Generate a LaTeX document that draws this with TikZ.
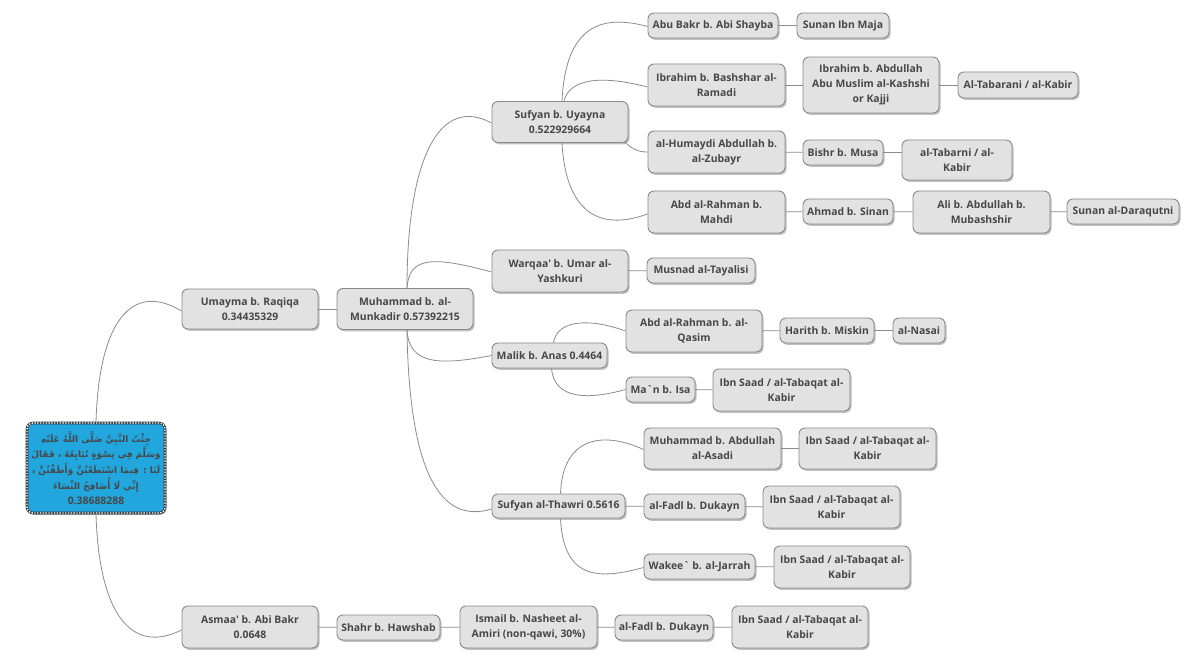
\documentclass[tikz,border=0pt]{standalone}
\usepackage{fontspec}
\setmainfont{Open Sans}[Ligatures=TeXOff]
\newfontfamily\arabicfont[Script=Arabic]{DejaVu Sans}
\TeXXeTstate=1
\usetikzlibrary{shadows}
\definecolor{boxfill}{HTML}{E2E2E2}
\definecolor{boxline}{HTML}{8A8A8A}
\definecolor{txt}{HTML}{474747}
\definecolor{linkc}{HTML}{8C8C8C}
\definecolor{rootblue}{HTML}{22A6DE}
\definecolor{rootline}{HTML}{2E3A40}
\tikzset{
  box/.style={draw=boxline, fill=boxfill, rounded corners=6pt, line width=0.9pt,
    text=txt, font=\bfseries\fontsize{10.4}{15}\selectfont, align=center, inner sep=1pt,
    drop shadow={shadow xshift=1.5pt, shadow yshift=-1.8pt, fill=black!55, opacity=0.45}},
  sz/.style 2 args={minimum width=#1pt, minimum height=#2pt},
  link/.style={draw=linkc, line width=0.8pt},
  rootbox/.style={draw=rootline, fill=rootblue, rounded corners=6pt, line width=2.6pt,
    text=txt, align=center, inner sep=1pt,
    font=\arabicfont\bfseries\fontsize{8.9}{15.6}\selectfont,
    drop shadow={shadow xshift=1.5pt, shadow yshift=-1.8pt, fill=black!60, opacity=0.5},
    postaction={draw=white, line width=1.3pt, dash pattern=on 1.4pt off 1.4pt}}
}
\begin{document}
\begin{tikzpicture}[x=1pt,y=-1pt]
\fill[white] (0,0) rectangle (1200,660);
\useasboundingbox (0,0) rectangle (1200,660);

% root
\node[rootbox, sz={138}{90}] (root) at (96,468)
 {\beginR جِئْتُ النَّبِيَّ صَلَّى اللَّهُ عَلَيْهِ\endR\\
  \beginR وَسَلَّمَ فِي نِسْوَةٍ نُبَايِعُهُ ، فَقَالَ\endR\\
  \beginR لَنَا : فِيمَا اسْتَطَعْتُنَّ وَأَطَقْتُنَّ ،\endR\\
  \beginR إِنِّي لَا أُصَافِحُ النِّسَاءَ\endR\\
  \rmfamily\bfseries\fontsize{10.4}{15}\selectfont 0.38688288};

% level 1
\node[box, sz={136}{40}] (umayma) at (250,309) {Umayma b. Raqiqa\\0.34435329};
\node[box, sz={136}{42}] (asmaa) at (250,627) {Asmaa' b. Abi Bakr\\0.0648};
\node[box, sz={136}{41}] (munkadir) at (405,309) {Muhammad b. al-\\Munkadir 0.57392215};

% Sufyan b. Uyayna branch
\node[box, sz={136}{41}] (sufyanU) at (560,122) {Sufyan b. Uyayna\\0.522929664};
\node[box, sz={130}{25}] (abubakr) at (713,25.5) {Abu Bakr b. Abi Shayba};
\node[box, sz={92}{25}] (ibnmaja) at (843,25.5) {Sunan Ibn Maja};
\node[box, sz={137}{42}] (ramadi) at (716.5,85) {Ibrahim b. Bashshar al-\\Ramadi};
\node[box, sz={136}{56}] (kashshi) at (871,85) {Ibrahim b. Abdullah\\Abu Muslim al-Kashshi\\or Kajji};
\node[box, sz={120}{26}] (tabarani) at (1018,85) {Al-Tabarani / al-Kabir};
\node[box, sz={137}{42}] (humaydi) at (716.5,152) {al-Humaydi Abdullah b.\\al-Zubayr};
\node[box, sz={80}{25}] (bishr) at (843,152.5) {Bishr b. Musa};
\node[box, sz={110}{40}] (tabarni) at (957,160) {al-Tabarni / al-\\Kabir};
\node[box, sz={137}{42}] (mahdi) at (716.5,212) {Abd al-Rahman b.\\Mahdi};
\node[box, sz={90}{25}] (sinan) at (848,211.5) {Ahmad b. Sinan};
\node[box, sz={137}{42}] (mubashshir) at (981.5,212) {Ali b. Abdullah b.\\Mubashshir};
\node[box, sz={112}{25}] (daraqutni) at (1123,211.5) {Sunan al-Daraqutni};

% Warqaa
\node[box, sz={136}{42}] (warqaa) at (560,271) {Warqaa' b. Umar al-\\Yashkuri};
\node[box, sz={108}{25}] (tayalisi) at (701,270.5) {Musnad al-Tayalisi};

% Malik
\node[box, sz={115}{25}] (malik) at (549.5,355.5) {Malik b. Anas 0.4464};
\node[box, sz={136}{42}] (qasim) at (694,331) {Abd al-Rahman b. al-\\Qasim};
\node[box, sz={94}{25}] (harith) at (827,330.5) {Harith b. Miskin};
\node[box, sz={52}{25}] (nasai) at (919,330.5) {al-Nasai};
\node[box, sz={69}{25}] (man) at (660.5,389.5) {Ma`n b. Isa};
\node[box, sz={137}{42}] (saadA) at (781.5,390) {Ibn Saad / al-Tabaqat al-\\Kabir};

% Sufyan al-Thawri
\node[box, sz={133}{24}] (thawri) at (558.5,506) {Sufyan al-Thawri 0.5616};
\node[box, sz={137}{41}] (asadi) at (712.5,448.5) {Muhammad b. Abdullah\\al-Asadi};
\node[box, sz={137}{41}] (saadB) at (867.5,448.5) {Ibn Saad / al-Tabaqat al-\\Kabir};
\node[box, sz={101}{25}] (fadlA) at (694.5,506.5) {al-Fadl b. Dukayn};
\node[box, sz={137}{42}] (saadC) at (831.5,507) {Ibn Saad / al-Tabaqat al-\\Kabir};
\node[box, sz={111}{25}] (wakee) at (699.5,566.5) {Wakee` b. al-Jarrah};
\node[box, sz={136}{42}] (saadD) at (842,567) {Ibn Saad / al-Tabaqat al-\\Kabir};

% Asmaa chain
\node[box, sz={103}{25}] (shahr) at (388.5,627.5) {Shahr b. Hawshab};
\node[box, sz={137}{42}] (ismail) at (528.5,627) {Ismail b. Nasheet al-\\Amiri (non-qawi, 30\%)};
\node[box, sz={98}{25}] (fadlB) at (664,627.5) {al-Fadl b. Dukayn};
\node[box, sz={136}{42}] (saadE) at (800,627) {Ibn Saad / al-Tabaqat al-\\Kabir};

% curved connectors
\draw[link] (root.north) .. controls +(3,-100) and +(-50,-30) .. ([shift={(0,2)}]umayma.west);
\draw[link] (root.south) .. controls +(3,100) and +(-50,25) .. ([shift={(0,3)}]asmaa.west);

\draw[link] ([shift={(2,0)}]munkadir.north) .. controls +(0,-130) and +(-52,-28) .. ([shift={(0,1)}]sufyanU.west);
\draw[link] ([shift={(2,0)}]munkadir.north) .. controls +(2,-30) and +(-62,-17) .. ([shift={(0,1)}]warqaa.west);
\draw[link] ([shift={(2,0)}]munkadir.south) .. controls +(2,35) and +(-52,10) .. (malik.west);
\draw[link] ([shift={(2,0)}]munkadir.south) .. controls +(2,140) and +(-52,16) .. ([shift={(0,3)}]thawri.west);

\draw[link] ([shift={(2,0)}]sufyanU.north) .. controls +(3,-62) and +(-58,-16) .. ([shift={(0,1)}]abubakr.west);
\draw[link] ([shift={(4,0)}]sufyanU.north) .. controls +(4,-17) and +(-58,-15) .. ([shift={(0,2)}]ramadi.west);
\draw[link] ([shift={(-4,-1)}]sufyanU.south east) .. controls +(8,7) and +(-10,0) .. (humaydi.west);
\draw[link] ([shift={(2,0)}]sufyanU.south) .. controls +(3,57) and +(-58,21) .. ([shift={(0,2)}]mahdi.west);

\draw[link] ([shift={(4,0)}]malik.north) .. controls +(4,-23) and +(-36,-13) .. (qasim.west);
\draw[link] ([shift={(2,0)}]malik.south) .. controls +(3,32) and +(-36,10) .. (man.west);

\draw[link] ([shift={(2,0)}]thawri.north) .. controls +(2,-54) and +(-44,-20) .. ([shift={(0,1)}]asadi.west);
\draw[link] ([shift={(2,0)}]thawri.south) .. controls +(3,62) and +(-44,12) .. ([shift={(0,1)}]wakee.west);

% straight connectors
\draw[link] (umayma) -- (munkadir);
\draw[link] (abubakr) -- (ibnmaja);
\draw[link] (ramadi) -- (kashshi);
\draw[link] (kashshi) -- (tabarani);
\draw[link] (humaydi) -- (bishr);
\draw[link] (bishr.east) -- (bishr.east -| tabarni.west);
\draw[link] (mahdi) -- (sinan);
\draw[link] (sinan) -- (mubashshir);
\draw[link] (mubashshir) -- (daraqutni);
\draw[link] (warqaa) -- (tayalisi);
\draw[link] (qasim) -- (harith);
\draw[link] (harith) -- (nasai);
\draw[link] (man) -- (saadA);
\draw[link] (thawri) -- (fadlA);
\draw[link] (asadi) -- (saadB);
\draw[link] (fadlA) -- (saadC);
\draw[link] (wakee) -- (saadD);
\draw[link] (asmaa) -- (shahr);
\draw[link] (shahr) -- (ismail);
\draw[link] (ismail) -- (fadlB);
\draw[link] (fadlB) -- (saadE);
\end{tikzpicture}
\end{document}
